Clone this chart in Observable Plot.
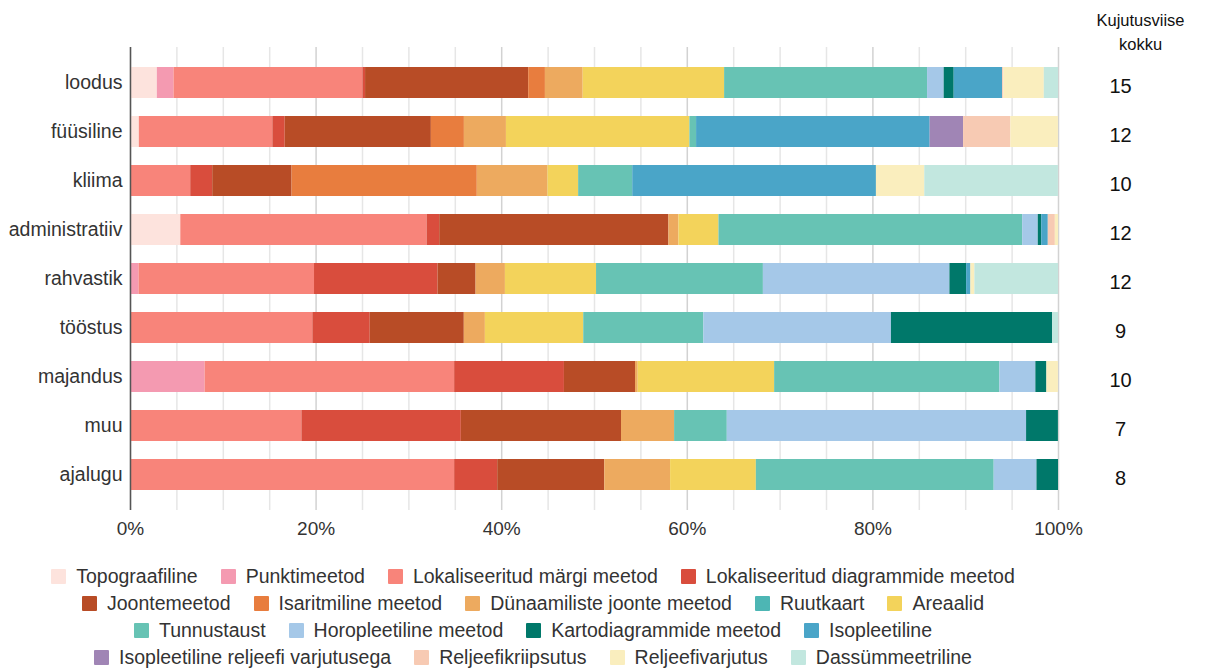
<!DOCTYPE html>
<html>
<head>
<meta charset="utf-8">
<script src="https://cdn.jsdelivr.net/npm/d3@7"></script>
<script src="https://cdn.jsdelivr.net/npm/@observablehq/plot@0.6"></script>
<style>
  body { margin: 0; background: #fff; font-family: "Liberation Sans", Arial, sans-serif; }
  #chart { width: 1220px; }
  #legend { width: 1066px; margin-top: 13px; font-size: 19.5px; color: #333; }
  .lrow { display: flex; justify-content: center; height: 27px; align-items: center; }
  .litem { display: flex; align-items: center; margin: 0 11.5px; white-space: nowrap; }
  .sw { width: 15px; height: 15px; margin-right: 10px; border-radius: 1px; }
</style>
</head>
<body>
<div id="chart"></div>
<script>
const categories = ["loodus", "füüsiline", "kliima", "administratiiv", "rahvastik", "tööstus", "majandus", "muu", "ajalugu"];
const totals = [15, 12, 10, 12, 12, 9, 10, 7, 8];
const methods = [
  "Topograafiline", "Punktimeetod", "Lokaliseeritud märgi meetod", "Lokaliseeritud diagrammide meetod",
  "Joontemeetod", "Isaritmiline meetod", "Dünaamiliste joonte meetod", "Ruutkaart", "Areaalid",
  "Tunnustaust", "Horopleetiline meetod", "Kartodiagrammide meetod", "Isopleetiline",
  "Isopleetiline reljeefi varjutusega", "Reljeefikriipsutus", "Reljeefivarjutus", "Dassümmeetriline"
];
const colors = [
  "#fde3dd", "#f49ab1", "#f8847a", "#d94d3d",
  "#b84c26", "#e87d3e", "#edaa5f", "#4db6b4", "#f3d35b",
  "#67c3b4", "#a5c8e8", "#00786a", "#4aa5c8",
  "#a085b5", "#f7cab3", "#faeebe", "#c2e7df"
];
const legendRows = [0, 0, 0, 0, 1, 1, 1, 1, 1, 2, 2, 2, 2, 3, 3, 3, 3];
// shares (%) per category, in the order of `methods`
const loodus        = [2.89, 1.80, 20.36, 0.28, 17.58, 1.80, 4.07, 0, 15.24, 21.87, 1.79, 1.08, 5.22, 0, 0.14, 4.35, 1.53];
const fyysiline     = [0.95, 0, 14.39, 1.33, 15.75, 3.56, 4.53, 0, 19.77, 0.72, 0, 0, 25.17, 3.60, 5.10, 5.12, 0];
const kliima        = [0, 0, 6.49, 2.37, 8.55, 19.96, 7.62, 0, 3.30, 5.83, 0, 0, 26.26, 0, 0, 5.21, 14.40];
const administratiiv= [5.42, 0, 26.54, 1.36, 24.70, 0, 1.08, 0, 4.31, 32.73, 1.68, 0.37, 0.71, 0, 0.76, 0.35, 0];
const rahvastik     = [0, 0.92, 18.91, 13.31, 4.10, 0, 3.16, 0, 9.82, 17.98, 20.10, 1.80, 0.46, 0, 0, 0.43, 9.01];
const toostus       = [0, 0, 19.65, 6.18, 10.14, 0, 2.27, 0, 10.60, 12.94, 20.22, 17.37, 0, 0, 0, 0, 0.63];
const majandus      = [0, 8.04, 26.89, 11.83, 7.66, 0, 0.29, 0, 14.70, 24.27, 3.88, 1.19, 0, 0, 0, 1.24, 0];
const muu           = [0, 0, 18.47, 17.18, 17.26, 0, 5.72, 0, 0, 5.68, 32.25, 3.43, 0, 0, 0, 0, 0];
const ajalugu       = [0, 0, 34.93, 4.64, 11.54, 0, 7.09, 0, 9.24, 25.63, 4.61, 2.32, 0, 0, 0, 0, 0];
const xTicks = [0, 20, 40, 60, 80, 100];
const gridTicks = [0, 5, 10, 15, 20, 25, 30, 35, 40, 45, 50, 55, 60, 65, 70, 75, 80, 85, 90, 95, 100];

const series = [loodus, fyysiline, kliima, administratiiv, rahvastik, toostus, majandus, muu, ajalugu];
const data = [];
categories.forEach((c, i) => methods.forEach((m, j) => {
  if (series[i][j] > 0) data.push({cat: c, method: m, value: series[i][j]});
}));
const totalData = categories.map((c, i) => ({cat: c, n: totals[i]}));

const plot = Plot.plot({
  width: 1220,
  height: 550,
  marginTop: 47,
  marginBottom: 40,
  marginLeft: 130,
  marginRight: 162,
  style: {fontFamily: "'Liberation Sans', Arial, sans-serif", fontSize: "19px", color: "#333", background: "#fff"},
  x: {domain: [0, 100], label: null},
  y: {domain: categories, label: null, paddingInner: 0.37, paddingOuter: 0.37},
  color: {domain: methods, range: colors},
  marks: [
    Plot.ruleX(gridTicks.filter(d => d % 20 !== 0), {stroke: "#e6e6e6", strokeWidth: 1.5}),
    Plot.ruleX(xTicks, {stroke: "#d2d2d2", strokeWidth: 1.5}),
    Plot.barX(data, Plot.stackX({x: "value", y: "cat", fill: "method", order: methods})),
    Plot.ruleX([0], {stroke: "#555", strokeWidth: 1.5}),
    Plot.axisX({ticks: xTicks, tickSize: 0, tickPadding: 11, tickFormat: d => d + "%", fontSize: 19, label: null}),
    Plot.axisY({tickSize: 0, tickPadding: 8, fontSize: 19.5, label: null}),
    Plot.text(totalData, {y: "cat", text: d => String(d.n), frameAnchor: "right", dx: 62, dy: 4, textAnchor: "middle", fontSize: 20, fill: "#111"}),
    Plot.text(["Kujutusviise"], {frameAnchor: "top-right", dx: 82, dy: -27, textAnchor: "middle", lineAnchor: "middle", fontSize: 16.5, fill: "#111"}),
    Plot.text(["kokku"], {frameAnchor: "top-right", dx: 82, dy: -3, textAnchor: "middle", lineAnchor: "middle", fontSize: 16.5, fill: "#111"})
  ]
});
document.getElementById("chart").appendChild(plot);

const legend = document.createElement("div");
legend.id = "legend";
for (let r = 0; r < 4; r++) {
  const row = document.createElement("div");
  row.className = "lrow";
  methods.forEach((m, j) => {
    if (legendRows[j] !== r) return;
    const item = document.createElement("div");
    item.className = "litem";
    const sw = document.createElement("div");
    sw.className = "sw";
    sw.style.background = colors[j];
    const t = document.createElement("span");
    t.textContent = m;
    item.appendChild(sw);
    item.appendChild(t);
    row.appendChild(item);
  });
  legend.appendChild(row);
}
document.getElementById("chart").appendChild(legend);
</script>
</body>
</html>
